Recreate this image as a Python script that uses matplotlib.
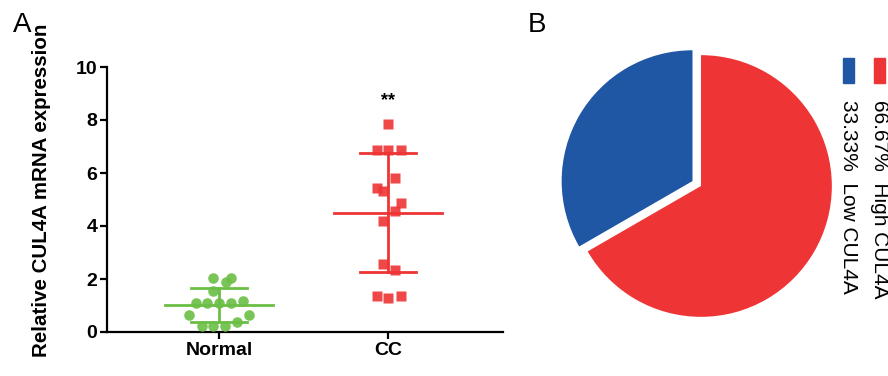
import numpy as np
import matplotlib
matplotlib.use('Agg')
import matplotlib.pyplot as plt
from matplotlib.patches import Rectangle

plt.rcParams['font.family'] = ['Liberation Sans', 'DejaVu Sans']

# Panel A data: relative CUL4A mRNA expression
groups = ['Normal', 'CC']
normal_vals = [2.05, 1.90, 2.05, 1.56, 1.10, 1.10, 1.10, 1.10, 1.17,
               0.65, 0.65, 0.39, 0.23, 0.23, 0.23]
normal_jit = [-0.034, 0.041, 0.071, -0.034, -0.136, -0.069, 0.0, 0.071, 0.142,
              -0.176, 0.178, 0.108, -0.102, -0.034, 0.037]
cc_vals = [7.84, 6.87, 6.87, 6.87, 5.80, 5.42, 5.32, 4.88, 4.57, 4.20,
           2.55, 2.33, 1.36, 1.29, 1.36]
cc_jit = [0.0, -0.067, 0.0, 0.075, 0.040, -0.067, -0.030, 0.075, 0.040, -0.030,
          -0.030, 0.040, -0.067, 0.0, 0.075]
yticks = [0, 2, 4, 6, 8, 10]

# Panel B data
pie_labels = ['Low CUL4A', 'High CUL4A']
pie_pct = [33.33, 66.67]

green = '#6BBE45'
red = '#EE3434'
blue = '#1F57A5'

fig = plt.figure(figsize=(8.88, 3.76), dpi=100)

# ---- panel A ----
ax = fig.add_axes([107/888, 44/376, 396/888, 265/376])
for i, (vals, jit, col, mk, ms) in enumerate([(normal_vals, normal_jit, green, 'o', 7.6),
                                              (cc_vals, cc_jit, red, 's', 6.8)]):
    vals = np.array(vals)
    ax.plot(i + np.array(jit), vals, mk, color=col, ms=ms, mec='none', alpha=0.9, zorder=3)
    m = vals.mean()
    sd = vals.std(ddof=1)
    ax.plot([i - 0.32, i + 0.32], [m, m], color=col, lw=2, zorder=2)
    ax.plot([i - 0.165, i + 0.165], [m + sd, m + sd], color=col, lw=2, zorder=2)
    ax.plot([i - 0.165, i + 0.165], [m - sd, m - sd], color=col, lw=2, zorder=2)
    ax.plot([i, i], [m - sd, m + sd], color=col, lw=2, zorder=2)

ax.text(1, 8.75, '**', ha='center', va='center', fontsize=13, fontweight='bold')
ax.set_xlim(-0.663, 1.68)
ax.set_ylim(0, 10)
ax.set_xticks([0, 1])
ax.set_xticklabels(groups, fontsize=14, fontweight='bold')
ax.set_yticks(yticks)
ax.set_yticklabels([str(t) for t in yticks], fontsize=14, fontweight='bold')
ax.spines['top'].set_visible(False)
ax.spines['right'].set_visible(False)
ax.spines['left'].set_linewidth(1.6)
ax.spines['bottom'].set_linewidth(1.6)
ax.tick_params(width=1.6, length=5, pad=2)
ax.set_ylabel('Relative CUL4A mRNA expression', fontsize=14.8, fontweight='bold')
ax.yaxis.set_label_coords(-0.142, 0.536)

fig.text(22/888, 1 - 25/376, 'A', fontsize=20, ha='center', va='center')
fig.text(537/888, 1 - 25/376, 'B', fontsize=20, ha='center', va='center')

# ---- panel B ----
pax = fig.add_axes([544/888, 33/376, 314/888, 314/376])
pax.pie(pie_pct, colors=[blue, red], startangle=90, explode=[0.075, 0],
        wedgeprops=dict(linewidth=0))
pax.set_xlim(-1.2, 1.2)
pax.set_ylim(-1.2, 1.2)
pax.set_aspect('equal')
pax.axis('off')

# rotated legend on the right
for xc, col, lab, pct in [(879.5, red, pie_labels[1], pie_pct[1]),
                          (848, blue, pie_labels[0], pie_pct[0])]:
    fig.patches.append(Rectangle(((xc - 5.5)/888, 1 - 83/376), 11/888, 25/376,
                                 transform=fig.transFigure, color=col))
    fig.text(xc/888, 1 - 100/376, f'{pct:.2f}%  {lab}', rotation=270,
             ha='center', va='top', fontsize=15)

fig.savefig('out.png', dpi=100)
